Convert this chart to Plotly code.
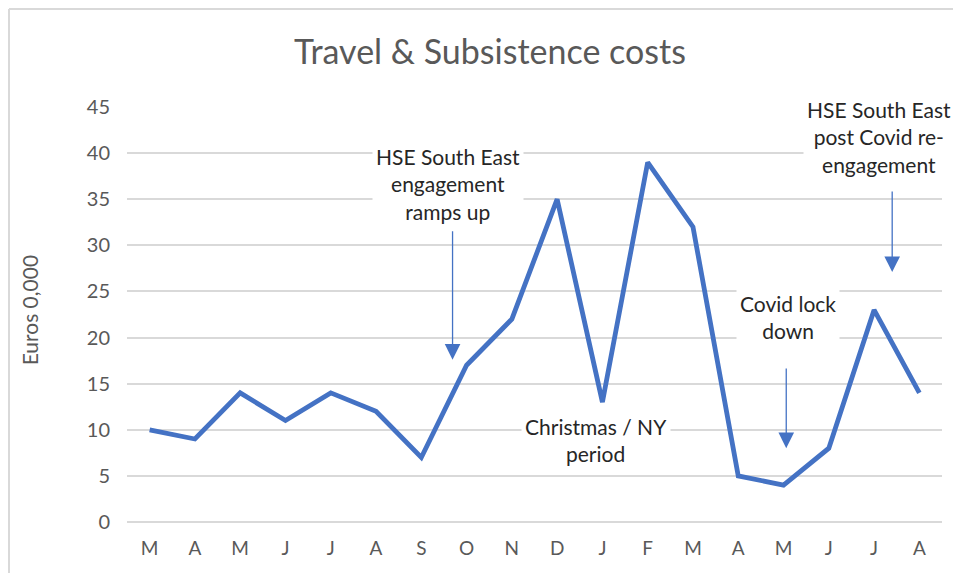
import plotly.graph_objects as go

months = ["M", "A", "M", "J", "J", "A", "S", "O", "N", "D", "J", "F", "M", "A", "M", "J", "J", "A"]
costs = [10, 9, 14, 11, 14, 12, 7, 17, 22, 35, 13, 39, 32, 5, 4, 8, 23, 14]
y_ticks = [0, 5, 10, 15, 20, 25, 30, 35, 40, 45]

# annotation notes: (text, x position in category units, y value)
note_texts = [
    "HSE South East<br>engagement<br>ramps up",
    "Christmas / NY<br>period",
    "Covid lock<br>down",
    "HSE South East<br>post Covid re-<br>engagement",
]
note_x = [6.6, 9.85, 14.1, 16.1]
note_y = [36.65, 8.9, 22.2, 41.7]

# arrows: x, tail y, tip y
arrow_x = [6.69, 14.06, 16.4]
arrow_tail = [31.7, 16.8, 36.0]
arrow_tip = [17.6, 8.0, 27.1]

FONT = "Lato, 'Open Sans', sans-serif"
GREY = "#595959"
BLUE = "#4472C4"

# page has an 8px body margin: figure drawn from (8, 8)
W, H = 945, 565
L, R, T, B = 119, 11, 99, 51
PW = W - L - R
PH = H - T - B

x_idx = list(range(len(months)))

fig = go.Figure()
fig.add_trace(go.Scatter(
    x=x_idx, y=costs, mode="lines",
    line=dict(color=BLUE, width=4.8),
    hoverinfo="skip", showlegend=False,
))

annotations = []
for t, xx, yy in zip(note_texts, note_x, note_y):
    annotations.append(dict(
        text=t, x=xx, y=yy, xref="x", yref="y", showarrow=False,
        font=dict(family=FONT, size=21, color="#262626"),
        bgcolor="white", borderpad=3, xanchor="center", yanchor="middle",
        align="center",
    ))
for xx, yt, yp in zip(arrow_x, arrow_tail, arrow_tip):
    annotations.append(dict(
        text="", x=xx, y=yp, ax=xx, ay=yt, xref="x", yref="y",
        axref="x", ayref="y", showarrow=True, arrowhead=2,
        arrowwidth=1.3, arrowsize=2.4, arrowcolor=BLUE,
    ))
annotations.append(dict(
    text="Euros 0,000", x=(29 - 8 - L) / PW, y=0.51, xref="paper", yref="paper",
    textangle=-90, showarrow=False, xanchor="center", yanchor="middle",
    font=dict(family=FONT, size=21, color=GREY),
))

frame_left = (1 - L) / PW
frame_top = 1 + (T - 1) / PH
fig.update_layout(
    width=W, height=H,
    margin=dict(l=L, r=R, t=T, b=B),
    paper_bgcolor="white", plot_bgcolor="white",
    title=dict(
        text="Travel & Subsistence costs", x=(490 - 8) / W, xanchor="center",
        y=1 - (52 - 8) / H, yanchor="middle", yref="container",
        font=dict(family=FONT, size=34, color=GREY),
    ),
    xaxis=dict(
        tickmode="array", tickvals=x_idx, ticktext=months,
        range=[-0.5, len(months) - 0.5],
        showgrid=False, zeroline=False, showline=False,
        tickfont=dict(family=FONT, size=19, color=GREY),
        ticklabelstandoff=13,
    ),
    yaxis=dict(
        range=[0, 45], tickvals=y_ticks,
        showgrid=True, gridcolor="#D9D9D9", gridwidth=1.5,
        zeroline=True, zerolinecolor="#D9D9D9", zerolinewidth=1.5,
        showline=False,
        tickfont=dict(family=FONT, size=20, color=GREY),
        ticklabelstandoff=16,
    ),
    annotations=annotations,
    shapes=[
        dict(type="line", xref="paper", yref="paper",
             x0=frame_left, x1=1.2, y0=frame_top, y1=frame_top,
             line=dict(color="#D9D9D9", width=2), layer="below"),
        dict(type="line", xref="paper", yref="paper",
             x0=frame_left, x1=frame_left, y0=-0.3, y1=frame_top,
             line=dict(color="#D9D9D9", width=2), layer="below"),
    ],
)

fig.write_html("out.html")
